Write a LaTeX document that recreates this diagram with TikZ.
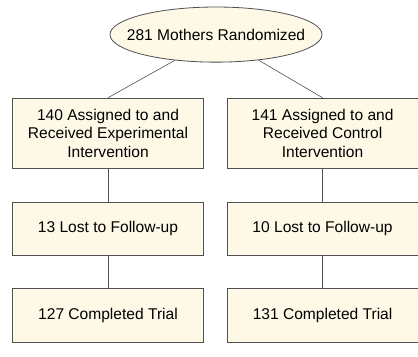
\documentclass[tikz,border=0pt]{standalone}
\usepackage{fontspec}
\setmainfont{Liberation Sans}
\usepackage{tikz}
\usetikzlibrary{shapes.geometric,positioning}
\definecolor{boxfill}{RGB}{254,249,231}
\definecolor{boxline}{RGB}{80,80,80}

\begin{document}
\begin{tikzpicture}[
        stage/.style={rectangle, draw=boxline, thick, fill=boxfill, minimum width=6.68cm, align=center, font=\fontsize{15.5}{18.5}\selectfont},
        link/.style={line width=0.6pt, boxline}
    ]
        \useasboundingbox (0,0) rectangle (14.63,-12.46);

        \node[ellipse, draw=boxline, thick, fill=boxfill, minimum width=7.42cm, minimum height=1.93cm, inner xsep=-15pt, inner ysep=0pt, font=\fontsize{15.5}{18.5}\selectfont] (mothers) at (7.56,-1.21) {281 Mothers Randomized};

        \node[stage, minimum height=2.45cm] (expgroup) at (3.78,-4.66) {140 Assigned to and\\Received Experimental\\Intervention};
        \node[stage, minimum height=2.45cm] (ctrlgroup) at (11.29,-4.66) {141 Assigned to and\\Received Control\\Intervention};

        \node[stage, minimum height=1.86cm] (explost) at (3.78,-8.0) {13 Lost to Follow-up};
        \node[stage, minimum height=1.86cm] (ctrllost) at (11.29,-8.0) {10 Lost to Follow-up};

        \node[stage, minimum height=1.89cm] (expdone) at (3.78,-11.03) {127 Completed Trial};
        \node[stage, minimum height=1.89cm] (ctrldone) at (11.29,-11.03) {131 Completed Trial};

        \draw[link] (mothers.212) -- (expgroup.north);
        \draw[link] (mothers.329) -- (ctrlgroup.north);
        \draw[link] (expgroup) -- (explost);
        \draw[link] (ctrlgroup) -- (ctrllost);
        \draw[link] (explost) -- (expdone);
        \draw[link] (ctrllost) -- (ctrldone);
    \end{tikzpicture}
\end{document}
